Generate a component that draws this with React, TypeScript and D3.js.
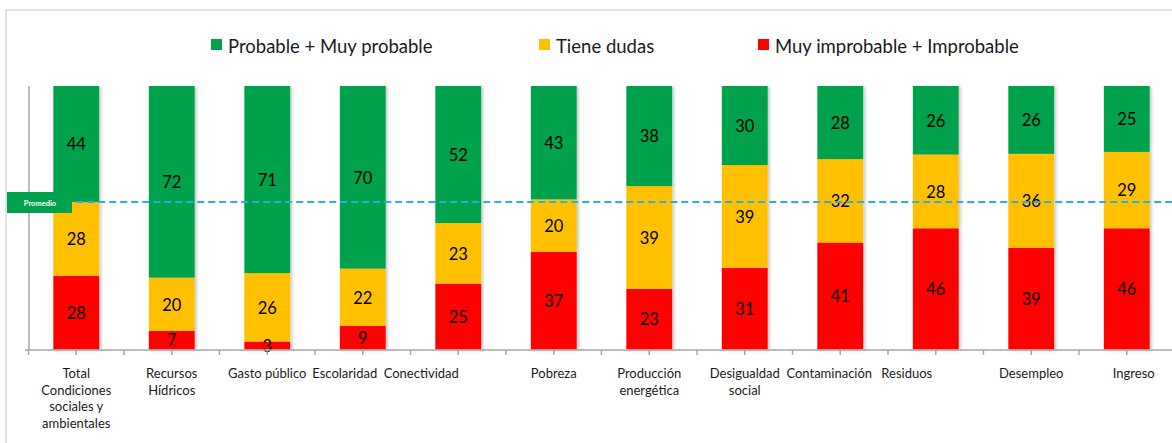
import React from "react";
import * as d3 from "d3";

// ---- data ----
const categories: string[] = [
  "Total\nCondiciones\nsociales y\nambientales",
  "Recursos\nHídricos",
  "Gasto público",
  "Escolaridad",
  "Conectividad",
  "Pobreza",
  "Producción\nenergética",
  "Desigualdad\nsocial",
  "Contaminación",
  "Residuos",
  "Desempleo",
  "Ingreso",
];
const probable: number[] = [44, 72, 71, 70, 52, 43, 38, 30, 28, 26, 26, 25];
const dudas: number[] = [28, 20, 26, 22, 23, 20, 39, 39, 32, 28, 36, 29];
const improbable: number[] = [28, 7, 3, 9, 25, 37, 23, 31, 41, 46, 39, 46];
const promedio = 56;
const seriesNames: string[] = ["Muy improbable + Improbable", "Tiene dudas", "Probable + Muy probable"];
const legendOrder: string[] = ["Probable + Muy probable", "Tiene dudas", "Muy improbable + Improbable"];

// ---- layout / style ----
const W = 1172;
const H = 443;
const COLORS: Record<string, string> = {
  "Probable + Muy probable": "#00A14B",
  "Tiene dudas": "#FFC000",
  "Muy improbable + Improbable": "#FF0000",
};
const LABEL_DX = [0, 0, 0, -18, -37, 0, 0, 0, -11, -29, 0, 7];
const LEGEND_X = [211, 539, 758];
const FONT = "Lato, 'Noto Sans', sans-serif";

export default function App() {
  const rows = categories.map((c, i) => ({
    cat: c,
    "Muy improbable + Improbable": improbable[i],
    "Tiene dudas": dudas[i],
    "Probable + Muy probable": probable[i],
  }));
  const stack = d3.stack<any>().keys(seriesNames).offset(d3.stackOffsetExpand);
  const layers = stack(rows);

  const x = d3.scaleBand<string>().domain(categories).range([28.5, 1174.5]).paddingInner(0.52).paddingOuter(0.26);
  const y = d3.scaleLinear().domain([0, 1]).range([349.5, 86]);
  const step = x.step();
  const x0 = x.range()[0];

  // ticks at category boundaries and centres
  const tickXs: number[] = [];
  for (let k = 0; k <= categories.length * 2; k++) tickXs.push(x0 + (k * step) / 2);

  const yAvg = y(promedio / 100);
  const xFirst = (x(categories[0]) as number) + x.bandwidth() / 2;

  return (
    <svg width={W} height={H} style={{ display: "block", position: "absolute", left: 0, top: 0, fontFamily: FONT }}>
      <defs>
        <filter id="shadow" x="-20%" y="-10%" width="150%" height="130%">
          <feDropShadow dx="2" dy="1" stdDeviation="1.6" floodColor="#000" floodOpacity="0.22" />
        </filter>
      </defs>
      <rect x={0} y={0} width={W} height={H} fill="#fff" />
      {/* chart border */}
      <path d={`M6,${H} V10 H${W}`} fill="none" stroke="#D9D9D9" strokeWidth={1.5} />

      {/* legend */}
      {legendOrder.map((name, i) => (
        <g key={name}>
          <rect x={LEGEND_X[i]} y={39} width={11} height={11} fill={COLORS[name]} />
          <text x={LEGEND_X[i] + 17} y={53} fontSize={18.5} fill="#1a1a1a">
            {name}
          </text>
        </g>
      ))}

      {/* bars */}
      {categories.map((c, i) => (
        <g key={c} filter="url(#shadow)">
          {layers.map((layer) => {
            const d = layer[i];
            return (
              <rect
                key={layer.key}
                x={x(c)}
                y={y(d[1])}
                width={x.bandwidth()}
                height={y(d[0]) - y(d[1])}
                fill={COLORS[layer.key]}
              />
            );
          })}
        </g>
      ))}

      {/* value labels */}
      {categories.map((c, i) =>
        layers.map((layer) => {
          const d = layer[i];
          const val = (rows[i] as any)[layer.key];
          return (
            <text
              key={c + layer.key}
              x={(x(c) as number) + x.bandwidth() / 2}
              y={(y(d[0]) + y(d[1])) / 2}
              dy="0.38em"
              textAnchor="middle"
              fontSize={16.5}
              fill="#000"
            >
              {val}
            </text>
          );
        })
      )}

      {/* axes */}
      <line x1={29} x2={29} y1={86} y2={350} stroke="#A6A6A6" strokeWidth={1.5} />
      <line x1={25} x2={W} y1={350} y2={350} stroke="#A6A6A6" strokeWidth={1.5} />
      {tickXs.map((t, k) => (
        <line key={k} x1={t} x2={t} y1={350} y2={355} stroke="#A6A6A6" strokeWidth={1.5} />
      ))}
      {categories.map((c, i) => {
        const lines = c.split("\n");
        return (
          <text
            key={c}
            x={(x(c) as number) + x.bandwidth() / 2 + LABEL_DX[i]}
            y={378}
            textAnchor="middle"
            fontSize={13}
            fill="#1a1a1a"
          >
            {lines.map((ln, j) => (
              <tspan key={j} x={(x(c) as number) + x.bandwidth() / 2 + LABEL_DX[i]} dy={j === 0 ? 0 : 16.5}>
                {ln}
              </tspan>
            ))}
          </text>
        );
      })}

      {/* promedio line */}
      <line x1={xFirst} x2={W} y1={yAvg} y2={yAvg} stroke="#2AADE3" strokeWidth={2} strokeDasharray="7 4" />
      <rect x={7} y={192} width={65} height={21} fill="#00A14B" />
      <text x={40} y={206} textAnchor="middle" fontSize={7.5} fontWeight="bold" fill="#fff">
        Promedio
      </text>
    </svg>
  );
}
